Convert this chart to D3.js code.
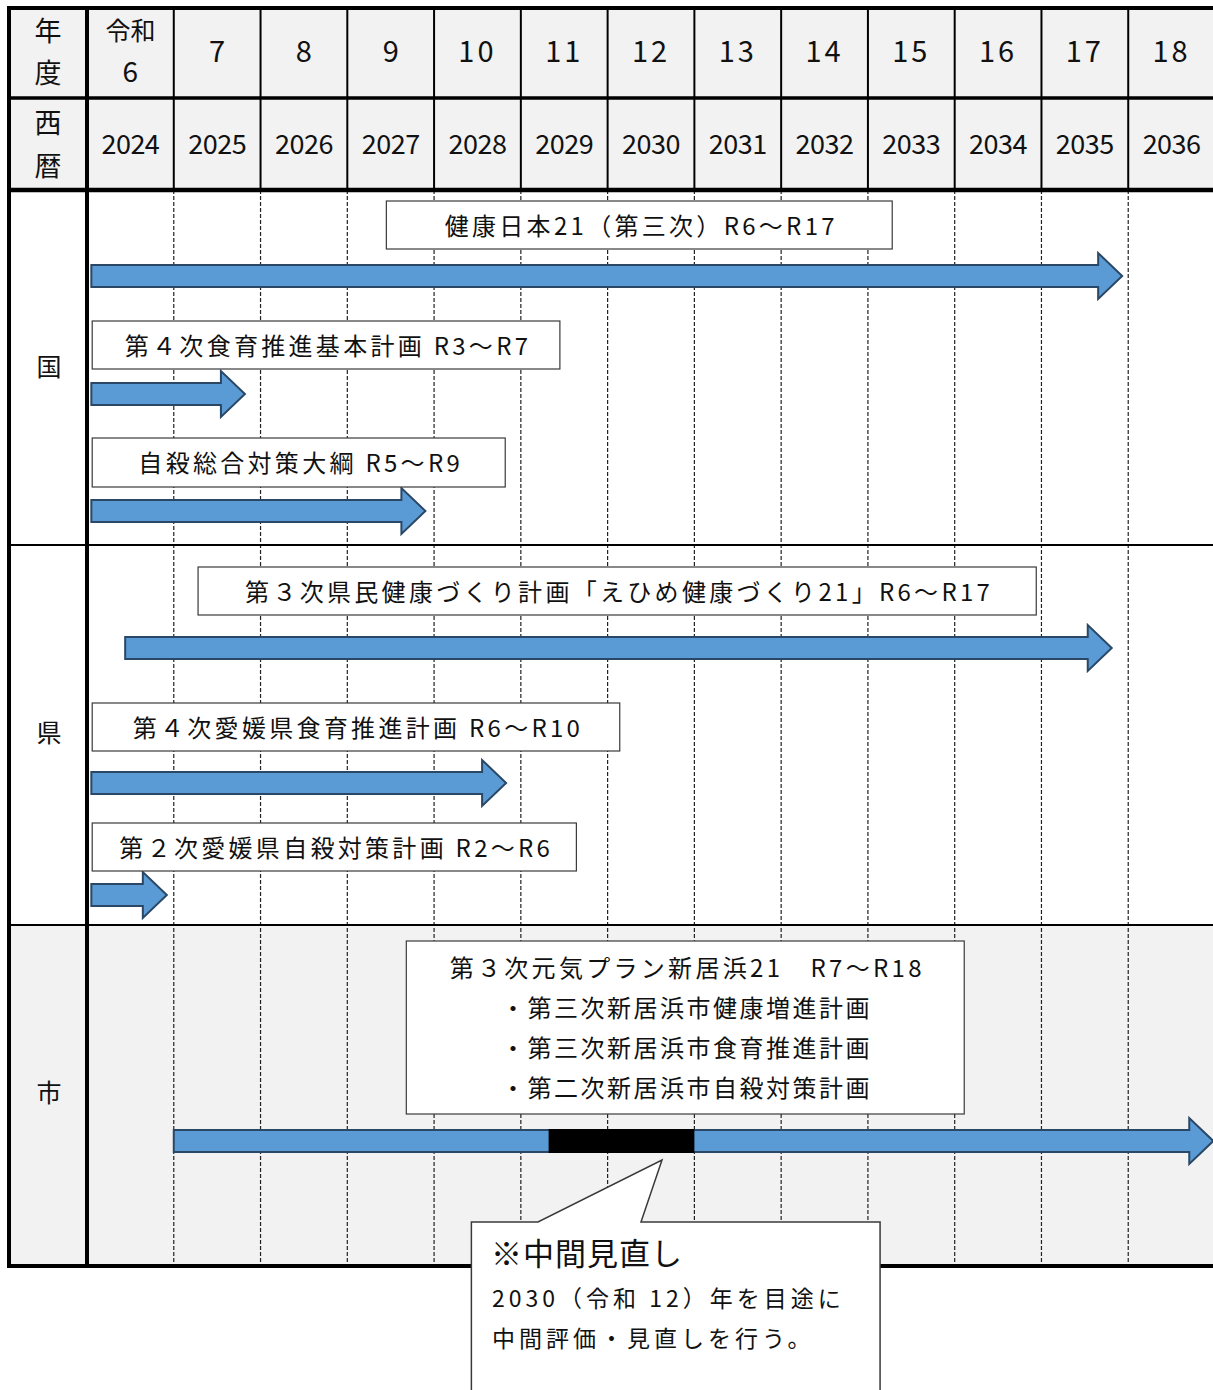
<!DOCTYPE html>
<html>
<head>
<meta charset="utf-8">
<script src="https://cdn.jsdelivr.net/npm/d3@7/dist/d3.min.js"></script>
<style>
body { margin: 0; background: #fff; }
text { font-family: "Noto Sans CJK JP", "Noto Sans", sans-serif; fill: #111; }
</style>
</head>
<body>
<div class="chart-cont"></div>
<script>
// ---- data ----
var years = [2024, 2025, 2026, 2027, 2028, 2029, 2030, 2031, 2032, 2033, 2034, 2035, 2036];
var wareki = ["令和|6", "7", "8", "9", "10", "11", "12", "13", "14", "15", "16", "17", "18"];
var sections = ["国", "県", "市"];

var planNames = [
    "健康日本21（第三次）R6～R17",
    "第４次食育推進基本計画 R3～R7",
    "自殺総合対策大綱 R5～R9",
    "第３次県民健康づくり計画「えひめ健康づくり21」R6～R17",
    "第４次愛媛県食育推進計画 R6～R10",
    "第２次愛媛県自殺対策計画 R2～R6",
    "第３次元気プラン新居浜21　R7～R18"
];
var planSection = ["国", "国", "国", "県", "県", "県", "市"];
// arrow extent in fiscal-year units
var planStart = [2024.05, 2024.05, 2024.05, 2024.44, 2024.05, 2024.05, 2025.0];
var planEnd   = [2035.93, 2025.82, 2027.90, 2035.81, 2028.83, 2024.92, 2036.98];
var reviewSpan = [2029.32, 2031.0];

var cityPlans = [
    "・第三次新居浜市健康増進計画",
    "・第三次新居浜市食育推進計画",
    "・第二次新居浜市自殺対策計画"
];
var noteTitle = "※中間見直し";
var noteLines = ["2030（令和 12）年を目途に", "中間評価・見直しを行う。"];

// ---- layout ----
var W = 1213, H = 1390;
var left = 9, col0 = 87, right = 1215;
var dy = -2;   // CJK glyphs sit a little low with "central"
var rowY = {top: 8, wareki: 98, seireki: 190};
var sectionY = {"国": [190, 545], "県": [545, 925], "市": [925, 1266]};
var labelShift = {"国": -3, "県": -4, "市": -5};
var laneY = [276, 394, 511, 648, 783, 895, 1141];          // arrow centre lines
var boxSpan = [[2027.45, 2033.28], [2024.06, 2029.45], [2024.06, 2028.82],
               [2025.28, 2034.94], [2024.06, 2030.14], [2024.06, 2029.64], [2027.68, 2034.11]];
var boxY = [[201, 249], [321, 369], [438, 487], [567, 615], [703, 751], [823, 871], [941, 1114]];

var x = d3.scaleLinear().domain([2024, 2037]).range([col0, right]);

var svg = d3.select(".chart-cont").append("svg")
    .attr("width", W).attr("height", H);

// backgrounds
svg.append("rect").attr("x", left).attr("y", rowY.top)
    .attr("width", right - left).attr("height", rowY.seireki - rowY.top).attr("fill", "#f2f2f2");
svg.selectAll("rect.sec").data(sections).enter().append("rect")
    .attr("class", "sec")
    .attr("x", left).attr("y", function(d) { return sectionY[d][0]; })
    .attr("width", right - left)
    .attr("height", function(d) { return sectionY[d][1] - sectionY[d][0]; })
    .attr("fill", function(d) { return d === "市" ? "#f2f2f2" : "#ffffff"; });

// column lines
var inner = years.slice(1);
svg.selectAll("line.hcol").data(inner).enter().append("line")
    .attr("x1", function(d) { return x(d); }).attr("x2", function(d) { return x(d); })
    .attr("y1", rowY.top).attr("y2", rowY.seireki)
    .attr("stroke", "#000").attr("stroke-width", 2);
svg.selectAll("line.bcol").data(inner).enter().append("line")
    .attr("x1", function(d) { return x(d); }).attr("x2", function(d) { return x(d); })
    .attr("y1", rowY.seireki).attr("y2", sectionY["市"][1])
    .attr("stroke", "#222").attr("stroke-width", 1.2)
    .attr("stroke-dasharray", "4,2");

// header text
function vert(g, cx, ys, chars, size) {
    chars.forEach(function(c, i) {
        g.append("text").attr("x", cx).attr("y", ys[i])
            .attr("text-anchor", "middle").attr("dominant-baseline", "central")
            .style("font-size", size + "px").text(c);
    });
}
vert(svg, 48, [29, 71], ["年", "度"], 27);
vert(svg, 48, [121, 164], ["西", "暦"], 27);

years.forEach(function(yr, i) {
    var cx = x(yr + 0.5);
    var parts = wareki[i].split("|");
    if (parts.length > 1) {
        svg.append("text").attr("x", cx).attr("y", 29)
            .attr("text-anchor", "middle").attr("dominant-baseline", "central")
            .style("font-size", "25px").text(parts[0]);
        svg.append("text").attr("x", cx).attr("y", 70)
            .attr("text-anchor", "middle").attr("dominant-baseline", "central")
            .style("font-size", "28px").text(parts[1]);
    } else {
        svg.append("text").attr("x", cx).attr("y", 49)
            .attr("text-anchor", "middle").attr("dominant-baseline", "central")
            .style("font-size", "29px")
            .style("letter-spacing", parts[0].length > 1 ? "3px" : "0px")
            .text(parts[0]);
    }
    svg.append("text").attr("x", cx).attr("y", 142)
        .attr("text-anchor", "middle").attr("dominant-baseline", "central")
        .style("font-size", "27px").style("letter-spacing", "-0.5px")
        .text(yr);
});

// section labels
sections.forEach(function(s) {
    svg.append("text").attr("x", 49).attr("y", (sectionY[s][0] + sectionY[s][1]) / 2 + labelShift[s])
        .attr("text-anchor", "middle").attr("dominant-baseline", "central")
        .style("font-size", "25px").text(s);
});

// frame lines
var hl = [[rowY.top, 4], [rowY.wareki, 3.5], [rowY.seireki, 4.5], [545, 2], [925, 2], [1266, 4]];
hl.forEach(function(h) {
    svg.append("line").attr("x1", left - 2).attr("x2", right)
        .attr("y1", h[0]).attr("y2", h[0]).attr("stroke", "#000").attr("stroke-width", h[1]);
});
svg.append("line").attr("x1", left).attr("x2", left).attr("y1", rowY.top - 2).attr("y2", 1268)
    .attr("stroke", "#000").attr("stroke-width", 4);
svg.append("line").attr("x1", col0).attr("x2", col0).attr("y1", rowY.top).attr("y2", 1266)
    .attr("stroke", "#000").attr("stroke-width", 4);

// arrows
var shaft = 11, head = 23, headLen = 24;
function arrowPath(x0, x1, cy) {
    return "M" + x0 + "," + (cy - shaft) + "L" + (x1 - headLen) + "," + (cy - shaft) +
        "L" + (x1 - headLen) + "," + (cy - head) + "L" + x1 + "," + cy +
        "L" + (x1 - headLen) + "," + (cy + head) + "L" + (x1 - headLen) + "," + (cy + shaft) +
        "L" + x0 + "," + (cy + shaft) + "Z";
}
var plans = planNames.map(function(n, i) {
    return {name: n, section: planSection[i], start: planStart[i], end: planEnd[i], i: i};
});

svg.append("g").selectAll("path").data(plans).enter().append("path")
    .attr("d", function(d) { return arrowPath(x(d.start), x(d.end), laneY[d.i]); })
    .attr("fill", "#5b9bd5").attr("stroke", "#2a4866").attr("stroke-width", 2)
    .attr("stroke-linejoin", "miter");

// mid-term review segment on the city arrow
svg.append("rect")
    .attr("x", x(reviewSpan[0])).attr("width", x(reviewSpan[1]) - x(reviewSpan[0]))
    .attr("y", laneY[6] - shaft - 1).attr("height", shaft * 2 + 2)
    .attr("fill", "#000");

// label boxes
var boxes = svg.append("g").selectAll("g").data(plans).enter().append("g");
boxes.append("rect")
    .attr("x", function(d) { return x(boxSpan[d.i][0]); })
    .attr("width", function(d) { return x(boxSpan[d.i][1]) - x(boxSpan[d.i][0]); })
    .attr("y", function(d) { return boxY[d.i][0]; })
    .attr("height", function(d) { return boxY[d.i][1] - boxY[d.i][0]; })
    .attr("fill", "#fff").attr("stroke", "#3a3a3a").attr("stroke-width", 1.2);
boxes.append("text")
    .attr("x", function(d) { return (x(boxSpan[d.i][0]) + x(boxSpan[d.i][1])) / 2 + 2; })
    .attr("y", function(d) { return (d.section === "市" ? 968 : (boxY[d.i][0] + boxY[d.i][1]) / 2 + 1) + dy; })
    .attr("text-anchor", "middle").attr("dominant-baseline", "central")
    .style("font-size", "24px").style("letter-spacing", "3.3px")
    .text(function(d) { return d.name; });

svg.append("g").selectAll("text").data(cityPlans).enter().append("text")
    .attr("x", 501).attr("y", function(d, i) { return 1008 + i * 40 + dy; })
    .attr("dominant-baseline", "central")
    .style("font-size", "24px").style("letter-spacing", "2.5px")
    .text(function(d) { return d; });

// callout for the mid-term review
var cx0 = x(2028.43), cx1 = x(2033.14), cTop = 1222;
svg.append("path")
    .attr("d", "M" + cx0 + "," + cTop + "L538," + cTop + "L662,1160L641," + cTop +
        "L" + cx1 + "," + cTop + "L" + cx1 + "," + (H + 5) + "L" + cx0 + "," + (H + 5) + "Z")
    .attr("fill", "#fff").attr("stroke", "#3a3a3a").attr("stroke-width", 1.5);
svg.append("text").attr("x", 491).attr("y", 1253 + dy).attr("dominant-baseline", "central")
    .style("font-size", "31px").style("letter-spacing", "1px").text(noteTitle);
svg.selectAll("text.note").data(noteLines).enter().append("text")
    .attr("class", "note")
    .attr("x", 492).attr("y", function(d, i) { return 1299 + i * 40 + dy; })
    .attr("dominant-baseline", "central")
    .style("font-size", "23px").style("letter-spacing", "4px")
    .text(function(d) { return d; });
</script>
</body>
</html>
